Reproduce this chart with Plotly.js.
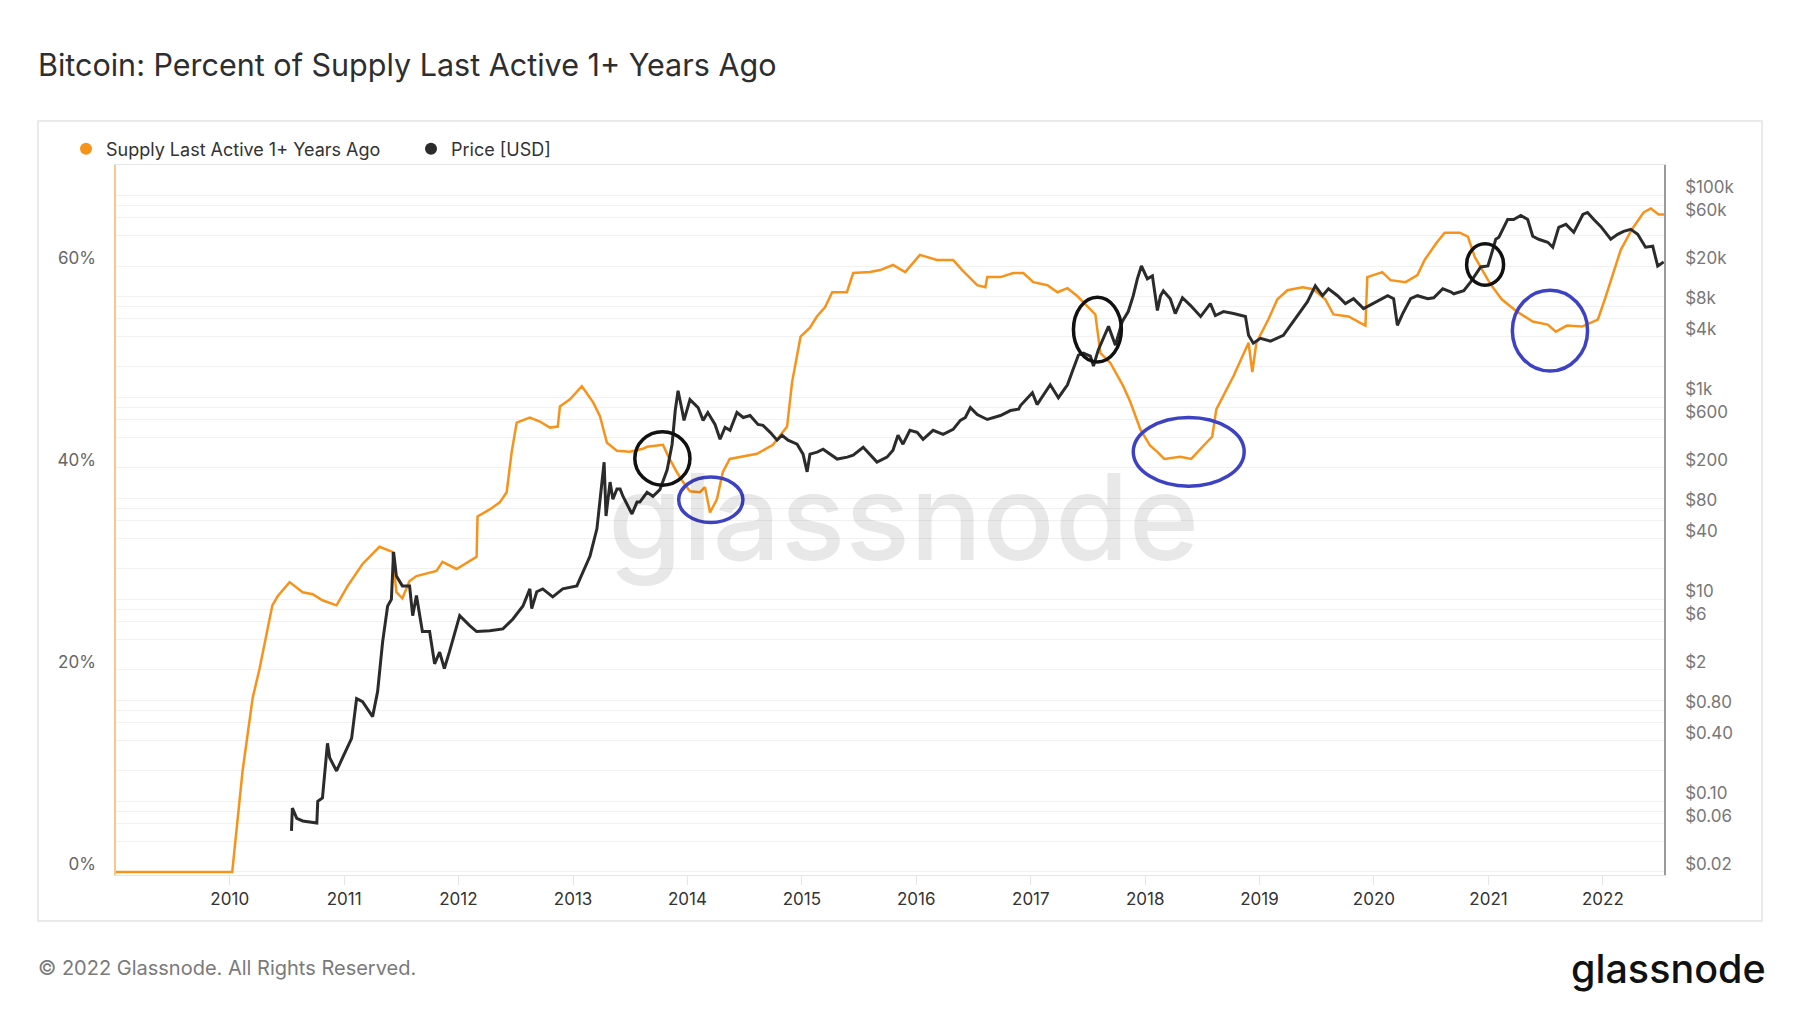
<!DOCTYPE html>
<html>
<head>
<meta charset="utf-8">
<script src="https://cdn.plot.ly/plotly-3.0.1.min.js"></script>
<style>
    html, body { margin: 0; padding: 0; background: #ffffff; }
    #chart { width: 1800px; height: 1013px; }
</style>
</head>
<body>
<div id="chart"></div>
<script>
const supply_dates = [
    '2009-01-03', '2010-01-09', '2010-02-11', '2010-03-15', '2010-04-06', '2010-05-01', '2010-05-17', '2010-06-03',
    '2010-07-11', '2010-08-22', '2010-09-23', '2010-10-24', '2010-12-08', '2011-01-12', '2011-03-01', '2011-04-24',
    '2011-06-04', '2011-06-17', '2011-07-06', '2011-07-29', '2011-08-20', '2011-10-23', '2011-11-11', '2011-12-26',
    '2012-02-06', '2012-02-28', '2012-03-02', '2012-04-10', '2012-05-12', '2012-06-03', '2012-06-19', '2012-07-05',
    '2012-08-16', '2012-09-17', '2012-10-19', '2012-11-13', '2012-11-20', '2012-12-22', '2013-01-29', '2013-03-06',
    '2013-03-28', '2013-04-19', '2013-05-21', '2013-07-01', '2013-08-12', '2013-08-25', '2013-10-15', '2013-10-31',
    '2013-11-28', '2013-12-18', '2014-01-09', '2014-02-10', '2014-02-26', '2014-03-14', '2014-04-05', '2014-04-24',
    '2014-05-16', '2014-06-17', '2014-08-11', '2014-10-01', '2014-10-30', '2014-11-15', '2014-12-01', '2014-12-15',
    '2014-12-28', '2015-01-27', '2015-02-18', '2015-03-16', '2015-04-08', '2015-05-25', '2015-06-14', '2015-08-07',
    '2015-09-08', '2015-10-19', '2015-11-27', '2016-01-13', '2016-03-07', '2016-04-28', '2016-05-27', '2016-07-14',
    '2016-08-09', '2016-08-15', '2016-09-26', '2016-11-06', '2016-12-08', '2017-01-09', '2017-02-23', '2017-03-27',
    '2017-04-28', '2017-05-30', '2017-07-01', '2017-07-26', '2017-08-11', '2017-09-12', '2017-10-23', '2017-11-15',
    '2017-12-17', '2018-01-17', '2018-02-09', '2018-03-03', '2018-04-23', '2018-05-28', '2018-07-15', '2018-08-03',
    '2018-08-16', '2018-10-10', '2018-11-27', '2018-12-09', '2018-12-22', '2019-01-29', '2019-02-27', '2019-03-31',
    '2019-05-18', '2019-06-22', '2019-07-30', '2019-08-25', '2019-10-12', '2019-11-16', '2019-12-05', '2019-12-11',
    '2020-01-28', '2020-02-23', '2020-04-11', '2020-05-19', '2020-06-11', '2020-07-19', '2020-08-14', '2020-10-01',
    '2020-10-27', '2020-11-18', '2021-01-05', '2021-02-12', '2021-04-01', '2021-05-22', '2021-07-09', '2021-08-04',
    '2021-09-08', '2021-10-26', '2021-12-16', '2022-01-07', '2022-02-02', '2022-02-27', '2022-04-03', '2022-05-11',
    '2022-06-03', '2022-06-28', '2022-07-15'
]
const supply_pct = [
    0, 0, 10.0, 17.2, 20.1, 23.8, 26.4, 27.3,
    28.7, 27.7, 27.5, 26.9, 26.4, 28.3, 30.5, 32.2,
    31.7, 27.7, 27.1, 28.8, 29.3, 29.8, 30.7, 30.0,
    30.8, 31.2, 35.2, 35.9, 36.6, 37.6, 41.6, 44.5,
    45.0, 44.6, 44.0, 44.1, 46.1, 46.8, 48.1, 46.5,
    45.1, 42.5, 41.7, 41.6, 41.9, 42.1, 42.3, 41.2,
    39.6, 38.6, 37.7, 37.6, 38.1, 35.6, 36.9, 39.6,
    40.9, 41.1, 41.4, 42.3, 43.5, 44.1, 48.5, 51.0,
    53.0, 53.9, 55.0, 55.9, 57.4, 57.4, 59.3, 59.4,
    59.6, 60.1, 59.4, 61.1, 60.6, 60.6, 59.6, 58.1,
    57.9, 58.9, 58.9, 59.3, 59.3, 58.4, 58.1, 57.4,
    57.8, 57.0, 56.0, 55.2, 51.4, 50.4, 48.1, 46.5,
    43.8, 42.2, 41.6, 40.9, 41.1, 40.9, 42.5, 43.1,
    45.8, 49.1, 52.4, 49.5, 52.4, 54.7, 56.7, 57.6,
    57.9, 57.7, 56.7, 55.2, 55.0, 54.4, 54.1, 58.9,
    59.4, 58.6, 58.4, 59.1, 60.6, 62.3, 63.3, 63.3,
    62.9, 60.9, 58.3, 56.7, 55.5, 54.5, 54.2, 53.5,
    54.1, 54.0, 54.7, 56.7, 59.3, 61.6, 63.6, 65.3,
    65.7, 65.1, 65.1
]

const price_dates = [
    '2010-07-17', '2010-07-20', '2010-08-03', '2010-08-22', '2010-10-06', '2010-10-09', '2010-10-24', '2010-10-31',
    '2010-11-09', '2010-11-16', '2010-12-08', '2010-12-27', '2011-01-25', '2011-02-10', '2011-03-01', '2011-04-02',
    '2011-04-18', '2011-05-04', '2011-05-20', '2011-06-01', '2011-06-08', '2011-06-17', '2011-07-06', '2011-07-29',
    '2011-08-08', '2011-08-20', '2011-09-08', '2011-10-01', '2011-10-17', '2011-11-02', '2011-11-17', '2011-12-03',
    '2012-01-05', '2012-02-06', '2012-02-28', '2012-04-10', '2012-05-22', '2012-06-23', '2012-07-25', '2012-08-16',
    '2012-08-22', '2012-09-07', '2012-09-26', '2012-10-28', '2012-11-29', '2013-01-13', '2013-02-02', '2013-02-24',
    '2013-03-18', '2013-04-03', '2013-04-10', '2013-04-16', '2013-04-29', '2013-05-08', '2013-05-21', '2013-05-31',
    '2013-06-09', '2013-07-08', '2013-07-24', '2013-08-02', '2013-08-25', '2013-09-13', '2013-10-05', '2013-10-28',
    '2013-11-13', '2013-11-23', '2013-12-02', '2013-12-15', '2013-12-21', '2014-01-09', '2014-02-04', '2014-02-20',
    '2014-03-07', '2014-03-30', '2014-04-15', '2014-05-01', '2014-05-17', '2014-06-08', '2014-06-28', '2014-07-20',
    '2014-08-14', '2014-08-30', '2014-09-22', '2014-10-14', '2014-10-30', '2014-11-18', '2014-12-17', '2015-01-05',
    '2015-01-18', '2015-01-27', '2015-02-19', '2015-03-10', '2015-04-02', '2015-04-24', '2015-05-26', '2015-06-14',
    '2015-07-16', '2015-08-07', '2015-08-29', '2015-09-30', '2015-10-19', '2015-11-04', '2015-11-20', '2015-12-12',
    '2016-01-04', '2016-01-23', '2016-02-24', '2016-03-27', '2016-04-28', '2016-05-21', '2016-06-06', '2016-06-22',
    '2016-07-14', '2016-08-15', '2016-09-26', '2016-10-28', '2016-11-23', '2016-11-29', '2017-01-06', '2017-01-21',
    '2017-03-04', '2017-03-30', '2017-04-28', '2017-05-14', '2017-06-02', '2017-06-18', '2017-07-10', '2017-07-20',
    '2017-08-04', '2017-09-06', '2017-09-28', '2017-10-20', '2017-11-08', '2017-11-24', '2017-12-07', '2017-12-20',
    '2018-01-08', '2018-01-24', '2018-02-09', '2018-02-19', '2018-02-28', '2018-03-22', '2018-04-07', '2018-04-30',
    '2018-05-26', '2018-06-27', '2018-07-28', '2018-08-13', '2018-09-08', '2018-10-10', '2018-11-17', '2018-11-27',
    '2018-12-12', '2019-01-04', '2019-02-05', '2019-03-18', '2019-04-09', '2019-05-11', '2019-06-03', '2019-06-28',
    '2019-07-21', '2019-08-09', '2019-09-07', '2019-10-02', '2019-10-28', '2019-11-29', '2019-12-31', '2020-02-14',
    '2020-03-04', '2020-03-16', '2020-04-02', '2020-04-27', '2020-05-19', '2020-06-21', '2020-07-10', '2020-08-08',
    '2020-09-02', '2020-09-12', '2020-10-14', '2020-11-05', '2020-12-07', '2020-12-30', '2021-01-15', '2021-01-24',
    '2021-02-03', '2021-02-19', '2021-03-03', '2021-03-22', '2021-04-14', '2021-05-06', '2021-05-22', '2021-06-10',
    '2021-07-09', '2021-07-25', '2021-08-13', '2021-09-05', '2021-09-30', '2021-10-29', '2021-11-13', '2021-12-03',
    '2021-12-25', '2022-01-26', '2022-02-17', '2022-03-08', '2022-03-31', '2022-04-22', '2022-05-17', '2022-06-09',
    '2022-06-25', '2022-07-14'
]
const price_usd = [
    0.051, 0.086, 0.068, 0.064, 0.061, 0.10, 0.108, 0.199,
    0.376, 0.27, 0.20, 0.27, 0.42, 1.04, 0.97, 0.69,
    1.22, 3.8, 8.6, 10, 29.5, 17, 13.6, 13.6,
    6.9, 10.9, 4.8, 4.8, 2.3, 3.0, 2.07, 3.0,
    6.9, 5.5, 4.8, 4.9, 5.1, 6.4, 8.6, 12.7,
    8.1, 11.9, 12.7, 10.6, 12.7, 13.6, 18.7, 26.9,
    50, 132, 228, 67, 145, 98, 124, 124,
    105, 70, 92, 92, 115, 105, 122, 191,
    344, 741, 1165, 741, 592, 950, 793, 592,
    708, 540, 385, 505, 472, 708, 632, 662,
    540, 529, 451, 377, 422, 377, 344, 274,
    183, 274, 287, 307, 274, 245, 256, 268,
    321, 274, 229, 256, 300, 422, 344, 472,
    451, 385, 472, 431, 482, 592, 632, 793,
    677, 604, 662, 741, 765, 830, 1112, 849,
    1333, 993, 1333, 1828, 2624, 2744, 2564, 2046,
    2937, 5050, 3289, 5650, 7080, 10160, 14900, 20000,
    14900, 15960, 7240, 10160, 11370, 9490, 6760, 9700,
    8110, 6320, 8480, 6470, 7080, 6760, 6320, 4120,
    3440, 3850, 3600, 4120, 5170, 7080, 8870, 12740,
    10160, 11900, 10160, 8480, 9490, 7560, 8480, 10160,
    9490, 5170, 6760, 9490, 10160, 9490, 9700, 11900,
    11120, 10620, 11370, 13930, 19550, 20000, 29400, 36800,
    38500, 49300, 57800, 57800, 63200, 57800, 39400, 36800,
    34400, 30700, 48200, 51700, 43100, 64700, 67800, 57800,
    49300, 36800, 41200, 44100, 46100, 41200, 30700, 31400,
    20000, 21900
]

const year_ticks = ['2010-01-01', '2011-01-01', '2012-01-01', '2013-01-01', '2014-01-01', '2015-01-01', '2016-01-01',
    '2017-01-01', '2018-01-01', '2019-01-01', '2020-01-01', '2021-01-01', '2022-01-01']
const year_labels = ['2010', '2011', '2012', '2013', '2014', '2015', '2016', '2017', '2018', '2019', '2020', '2021', '2022']

const pct_ticks = [0, 20, 40, 60]
const pct_labels = ['0%', '20%', '40%', '60%']

const price_ticks = [0.02, 0.04, 0.06, 0.08, 0.1, 0.2, 0.4, 0.6, 0.8, 1, 2, 4, 6, 8, 10, 20, 40, 60, 80, 100,
    200, 400, 600, 800, 1000, 2000, 4000, 6000, 8000, 10000, 20000, 40000, 60000, 80000, 100000]
const price_labels = ['$0.02', '', '$0.06', '', '$0.10', '', '$0.40', '', '$0.80', '', '$2', '', '$6', '', '$10', '',
    '$40', '', '$80', '', '$200', '', '$600', '', '$1k', '', '$4k', '', '$8k', '', '$20k', '', '$60k', '', '$100k']

// hand drawn marks on the original picture
const mark_start = ['2013-07-17', '2013-12-04', '2017-05-17', '2017-11-24', '2020-10-23', '2021-03-18']
const mark_end = ['2014-01-09', '2014-06-27', '2017-10-17', '2018-11-13', '2021-02-18', '2021-11-13']
const mark_low = [38.3, 34.6, 50.5, 38.2, 58.1, 49.6]
const mark_high = [43.6, 39.1, 56.9, 45.0, 62.2, 57.6]
const mark_color = ['#111111', '#3d42c2', '#111111', '#3d42c2', '#111111', '#3d42c2']

const W = 1800
const H = 1013
const margin = {l: 116, r: 136, t: 165, b: 138, pad: 0}
const font = 'Inter, "Noto Sans", sans-serif'

function px_x(px) {
    return (px - margin.l) / (W - margin.l - margin.r)
}

function px_y(py) {
    return (H - margin.b - py) / (H - margin.t - margin.b)
}

function mark_shapes() {
    let shapes = []
    for (var i = 0; i < mark_start.length; i++) {
        shapes.push({
            type: 'circle',
            xref: 'x', yref: 'y',
            x0: mark_start[i], x1: mark_end[i],
            y0: mark_low[i], y1: mark_high[i],
            line: {color: mark_color[i], width: 3.5},
        })
    }
    return shapes
}

const traces = [
    {
        type: 'scatter', mode: 'lines',
        x: supply_dates, y: supply_pct,
        yaxis: 'y',
        line: {color: '#f7931a', width: 2.5},
        showlegend: false,
        hoverinfo: 'skip',
    },
    {
        type: 'scatter', mode: 'lines',
        x: price_dates, y: price_usd,
        yaxis: 'y2',
        line: {color: '#2b2b2b', width: 3},
        showlegend: false,
        hoverinfo: 'skip',
    },
    {
        type: 'scatter', mode: 'markers',
        x: [null], y: [null],
        name: 'Supply Last Active 1+ Years Ago',
        marker: {color: '#f7931a', size: 12},
    },
    {
        type: 'scatter', mode: 'markers',
        x: [null], y: [null], yaxis: 'y2',
        name: 'Price [USD]',
        marker: {color: '#2b2b2b', size: 12},
    },
]

const layout = {
    width: W,
    height: H,
    margin: margin,
    paper_bgcolor: '#ffffff',
    plot_bgcolor: '#ffffff',
    font: {family: font, color: '#333333'},
    title: {
        text: 'Bitcoin: Percent of Supply Last Active 1+ Years Ago',
        xref: 'container', yref: 'container',
        x: 38 / W, xanchor: 'left',
        y: 1 - 65 / H, yanchor: 'middle',
        font: {family: font, size: 30.5, color: '#2e2e2e'},
    },
    showlegend: true,
    legend: {
        orientation: 'h',
        x: px_x(66), xanchor: 'left',
        y: px_y(149), yanchor: 'middle',
        font: {family: font, size: 18, color: '#333333'},
        itemwidth: 30,
        entrywidth: 300,
        bgcolor: 'rgba(0,0,0,0)',
    },
    xaxis: {
        type: 'date',
        range: ['2009-01-03', '2022-07-15'],
        tickvals: year_ticks,
        ticktext: year_labels,
        ticks: 'outside',
        ticklen: 9,
        tickcolor: '#e6e6e6',
        tickfont: {family: font, size: 17, color: '#333333'},
        showgrid: false,
        zeroline: false,
        showline: true,
        mirror: true,
        linecolor: '#e6e6e6',
        linewidth: 1,
    },
    yaxis: {
        range: [-0.3, 70],
        tickvals: pct_ticks,
        ticktext: pct_labels,
        tickfont: {family: font, size: 17, color: '#666666'},
        ticklabelshift: -8,
        ticklabelstandoff: 15,
        showgrid: true,
        gridcolor: '#e8e8e8',
        zeroline: false,
        showline: true,
        linecolor: '#f9c78e',
        linewidth: 1.5,
    },
    yaxis2: {
        type: 'log',
        overlaying: 'y',
        side: 'right',
        range: [Math.log10(0.02) - 0.03, Math.log10(0.02) + 7],
        tickvals: price_ticks,
        ticktext: price_labels,
        tickfont: {family: font, size: 17, color: '#777777'},
        ticklabelshift: -8,
        ticklabelstandoff: 16,
        showgrid: true,
        gridcolor: '#f1f1f1',
        zeroline: false,
        showline: true,
        linecolor: '#9a9a9a',
        linewidth: 1.5,
    },
    shapes: [
        {
            type: 'rect', xref: 'paper', yref: 'paper',
            x0: px_x(38), x1: px_x(1762), y0: px_y(921), y1: px_y(121),
            line: {color: '#e4e4e4', width: 1.5},
            layer: 'below',
        },
    ].concat(mark_shapes()),
    annotations: [
        {
            text: 'glassnode',
            xref: 'paper', yref: 'paper',
            x: px_x(903), y: px_y(516),
            xanchor: 'center', yanchor: 'middle',
            showarrow: false,
            font: {family: font, size: 120, color: 'rgba(0,0,0,0.09)', weight: 500},
        },
        {
            text: '© 2022 Glassnode. All Rights Reserved.',
            xref: 'paper', yref: 'paper',
            x: px_x(36), y: px_y(968),
            xanchor: 'left', yanchor: 'middle',
            showarrow: false,
            font: {family: font, size: 20, color: '#7a7a7a'},
        },
        {
            text: 'glassnode',
            xref: 'paper', yref: 'paper',
            x: px_x(1768), y: px_y(969),
            xanchor: 'right', yanchor: 'middle',
            showarrow: false,
            font: {family: font, size: 39.5, color: '#111111', weight: 500},
        },
    ],
}

Plotly.newPlot('chart', traces, layout, {displayModeBar: false, responsive: false})
</script>
</body>
</html>
